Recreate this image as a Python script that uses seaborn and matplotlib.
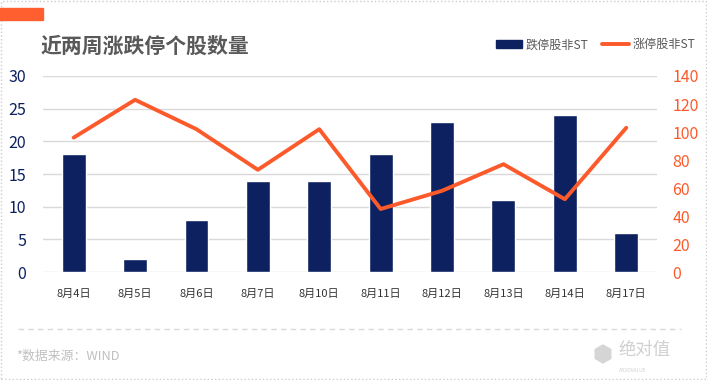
import matplotlib

matplotlib.use('Agg')
import matplotlib.pyplot as plt
from matplotlib.lines import Line2D
from matplotlib.patches import Rectangle, RegularPolygon
import pandas as pd
import seaborn as sns

dates = ['8月4日', '8月5日', '8月6日', '8月7日', '8月10日',
         '8月11日', '8月12日', '8月13日', '8月14日', '8月17日']
limit_down = [18, 2, 8, 14, 14, 18, 23, 11, 24, 6]
limit_up = [96, 123, 102, 73, 102, 45, 58, 77, 52, 103]

NAVY = '#0d2160'
ORANGE = '#fd5a2b'
GRID = '#d9d9d9'

sns.set_theme(style='white')
plt.rcParams['font.family'] = ['Noto Sans CJK SC', 'DejaVu Sans']

df = pd.DataFrame({'date': dates, 'down': limit_down, 'up': limit_up})

fig = plt.figure(figsize=(7.07, 3.80), dpi=100)
ax = fig.add_axes([0.0608, 0.2842, 0.8684, 0.5158])

sns.barplot(data=df, x='date', y='down', color=NAVY, width=0.39,
            saturation=1, ax=ax, zorder=2)
ax.set_ylim(0, 30)
ax.set_yticks(range(0, 31, 5))
ax.grid(axis='y', color=GRID, linewidth=1, zorder=0)
ax.set_axisbelow(True)
ax.set_xlabel('')
ax.set_ylabel('')
ax.tick_params(axis='y', length=0, pad=12, labelsize=11.5, labelcolor=NAVY)
ax.tick_params(axis='x', length=0, pad=12, labelsize=8, labelcolor='#333333')

ax2 = ax.twinx()
sns.pointplot(data=df, x='date', y='up', color=ORANGE, markers='',
              linestyles='-', ax=ax2)
for line in ax2.lines:
    line.set_linewidth(2.8)
ax2.set_ylim(0, 140)
ax2.set_yticks(range(0, 141, 20))
ax2.set_ylabel('')
ax2.tick_params(axis='y', length=0, pad=11, labelsize=11.5, labelcolor=ORANGE)
ax2.grid(False)

for a in (ax, ax2):
    for s in a.spines.values():
        s.set_visible(False)

# header
fig.patches.append(Rectangle((0, 0.947), 0.0608, 0.0316, transform=fig.transFigure,
                             color='#ff5f2e', zorder=5))
fig.text(0.0566, 0.879, '近两周涨跌停个股数量', fontsize=15, fontweight='bold',
         color='#595959', va='center', ha='left')

handles = [Rectangle((0, 0), 1, 1, color=NAVY),
           Line2D([0], [0], color=ORANGE, linewidth=2.8)]
fig.legend(handles, ['跌停股非ST', '涨停股非ST'], loc='center right',
           bbox_to_anchor=(0.983, 0.882), ncol=2, frameon=False, fontsize=8.7,
           labelcolor='#595959', handlelength=2.2, handletextpad=0.3,
           columnspacing=1.1, borderpad=0, borderaxespad=0)

# footer
fig.lines.append(Line2D([0.025, 0.963], [0.134, 0.134], transform=fig.transFigure,
                        color=GRID, linewidth=1, linestyle=(0, (4, 3))))
fig.text(0.023, 0.063, '*数据来源：WIND', fontsize=9.3, color='#c0c0c0',
         va='center', ha='left')
fig.patches.append(RegularPolygon((6.03, 0.26), numVertices=6, radius=0.09,
                                  transform=fig.dpi_scale_trans, color='#d5d5d5'))
fig.text(0.875, 0.08, '绝对值', fontsize=12.5, color='#d0d0d0', va='center', ha='left')
fig.text(0.895, 0.025, 'ABSOVALUE', fontsize=3.5, color='#d0d0d0', va='center',
         ha='center')

fig.patches.append(Rectangle((0.001, 0.002), 0.997, 0.996, transform=fig.transFigure,
                             fill=False, edgecolor='#cccccc', linewidth=1,
                             linestyle=':'))

fig.savefig('out.png', dpi=100)
